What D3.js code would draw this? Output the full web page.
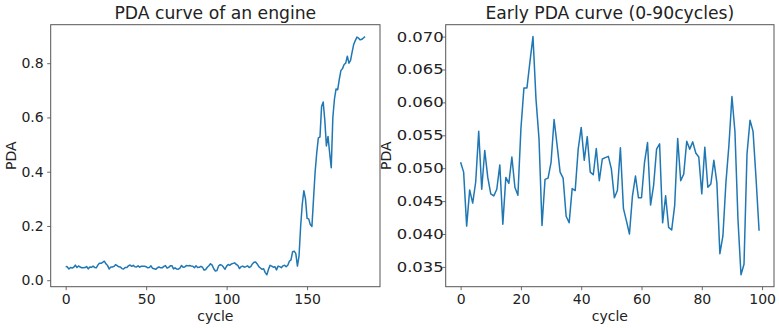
<!DOCTYPE html>
<html>
<head>
<meta charset="utf-8">
<script src="https://cdn.jsdelivr.net/npm/d3@7.9.0/dist/d3.min.js"></script>
<style>
  body { margin: 0; background: #fff; }
  svg text { font-family: "DejaVu Sans", sans-serif; fill: #222; }
</style>
</head>
<body>
<svg id="chart" width="779" height="328"></svg>
<script>
// early PDA values, cycles 0-99 (also the start of the full curve)
const earlyPDA = [
  0.0509, 0.0494, 0.0412, 0.0467, 0.0447, 0.0479, 0.0556, 0.0468, 0.0527, 0.0486,
  0.0461, 0.0458, 0.0468, 0.0505, 0.0415, 0.0486, 0.0477, 0.0517, 0.0471, 0.0459,
  0.0560, 0.0622, 0.0622, 0.0662, 0.0700, 0.0605, 0.0545, 0.0413, 0.0483, 0.0485,
  0.0509, 0.0574, 0.0535, 0.0494, 0.0485, 0.0427, 0.0417, 0.0469, 0.0466, 0.0529,
  0.0562, 0.0512, 0.0548, 0.0494, 0.0490, 0.0530, 0.0481, 0.0514, 0.0516, 0.0518,
  0.0499, 0.0455, 0.0466, 0.0531, 0.0439, 0.0420, 0.0400, 0.0458, 0.0488, 0.0455,
  0.0455, 0.0509, 0.0539, 0.0444, 0.0473, 0.0529, 0.0537, 0.0417, 0.0458, 0.0410,
  0.0406, 0.0443, 0.0545, 0.0481, 0.0491, 0.0541, 0.0529, 0.0540, 0.0523, 0.0517,
  0.0461, 0.0532, 0.0471, 0.0476, 0.0512, 0.0478, 0.0370, 0.0397, 0.0478, 0.0535,
  0.0609, 0.0555, 0.0422, 0.0338, 0.0354, 0.0522, 0.0573, 0.0556, 0.0484, 0.0405
];

// later PDA values, cycles 100-186
const latePDA = [
  0.052, 0.058, 0.055, 0.060, 0.062, 0.064, 0.058, 0.055, 0.043, 0.050,
  0.052, 0.048, 0.050, 0.053, 0.047, 0.050, 0.060, 0.066, 0.067, 0.060,
  0.050, 0.045, 0.040, 0.042, 0.028, 0.020, 0.040, 0.055, 0.052, 0.048,
  0.050, 0.038, 0.052, 0.050, 0.046, 0.053, 0.055, 0.050, 0.055, 0.070,
  0.075, 0.105, 0.107, 0.098, 0.052, 0.090, 0.200, 0.280, 0.330, 0.300,
  0.228, 0.226, 0.205, 0.198, 0.300, 0.400, 0.470, 0.525, 0.528, 0.640,
  0.657, 0.590, 0.495, 0.530, 0.470, 0.415, 0.600, 0.668, 0.705, 0.702,
  0.740, 0.773, 0.780, 0.795, 0.800, 0.826, 0.800, 0.810, 0.842, 0.870,
  0.884, 0.896, 0.892, 0.886, 0.888, 0.893, 0.898
];

const fullPDA = earlyPDA.concat(latePDA);

const leftXTicks = [0, 50, 100, 150];
const leftYTicks = [0.0, 0.2, 0.4, 0.6, 0.8];
const rightXTicks = [0, 20, 40, 60, 80, 100];
const rightYTicks = [0.035, 0.040, 0.045, 0.050, 0.055, 0.060, 0.065, 0.070];

const svg = d3.select('#chart');

// matplotlib-like 5% padding around data
function padded(ext) {
  const r = ext[1] - ext[0];
  return [ext[0] - 0.05 * r, ext[1] + 0.05 * r];
}

function drawPanel(opts) {
  const { left, top, width, height, data, title, xTicks, yTicks, yFmt, yLabelX, yTickWidth } = opts;
  const g = svg.append('g').attr('transform', `translate(${left},${top})`);

  const x = d3.scaleLinear().domain(padded([0, data.length - 1])).range([0, width]);
  const y = d3.scaleLinear().domain(padded(d3.extent(data))).range([height, 0]);

  const line = d3.line().x((d, i) => x(i)).y(d => y(d));
  g.append('path')
    .datum(data)
    .attr('d', line)
    .attr('fill', 'none')
    .attr('stroke', '#1f77b4')
    .attr('stroke-width', 1.5)
    .attr('stroke-linejoin', 'round');

  const xAxis = g.append('g').attr('transform', `translate(0,${height})`)
    .call(d3.axisBottom(x).tickValues(xTicks).tickFormat(d3.format('d')).tickSizeInner(3.5).tickSizeOuter(0).tickPadding(3.5));
  const yAxis = g.append('g')
    .call(d3.axisLeft(y).tickValues(yTicks).tickFormat(d3.format(yFmt)).tickSizeInner(3.5).tickSizeOuter(0).tickPadding(3.5));

  [xAxis, yAxis].forEach(a => {
    a.select('.domain').remove();
    a.selectAll('line').attr('stroke', '#444').attr('stroke-width', 0.8);
    a.selectAll('text').attr('font-size', 14).attr('font-family', '"DejaVu Sans", sans-serif').attr('fill', '#222');
  });

  // the right panel's y labels come out wider in the picture
  if (yTickWidth) {
    yAxis.selectAll('text')
      .attr('x', -2)
      .attr('textLength', yTickWidth)
      .attr('lengthAdjust', 'spacingAndGlyphs');
  }

  // frame
  g.append('rect')
    .attr('width', width).attr('height', height)
    .attr('fill', 'none').attr('stroke', '#555').attr('stroke-width', 1);

  g.append('text')
    .attr('x', width / 2).attr('y', -6)
    .attr('text-anchor', 'middle')
    .attr('font-size', 17.2)
    .text(title);

  g.append('text')
    .attr('x', width / 2).attr('y', height + 34)
    .attr('text-anchor', 'middle')
    .attr('font-size', 14)
    .text('cycle');

  g.append('text')
    .attr('transform', `translate(${yLabelX},${height / 2}) rotate(-90)`)
    .attr('text-anchor', 'middle')
    .attr('font-size', 14)
    .text('PDA');
}

drawPanel({
  left: 50.7, top: 24.7, width: 329.3, height: 262,
  data: fullPDA, title: 'PDA curve of an engine',
  xTicks: leftXTicks, yTicks: leftYTicks, yFmt: '.1f', yLabelX: -35
});

drawPanel({
  left: 445.7, top: 24.7, width: 328.3, height: 262,
  data: earlyPDA, title: 'Early PDA curve (0-90cycles)',
  xTicks: rightXTicks, yTicks: rightYTicks, yFmt: '.3f', yLabelX: -55, yTickWidth: 47
});
</script>
</body>
</html>
